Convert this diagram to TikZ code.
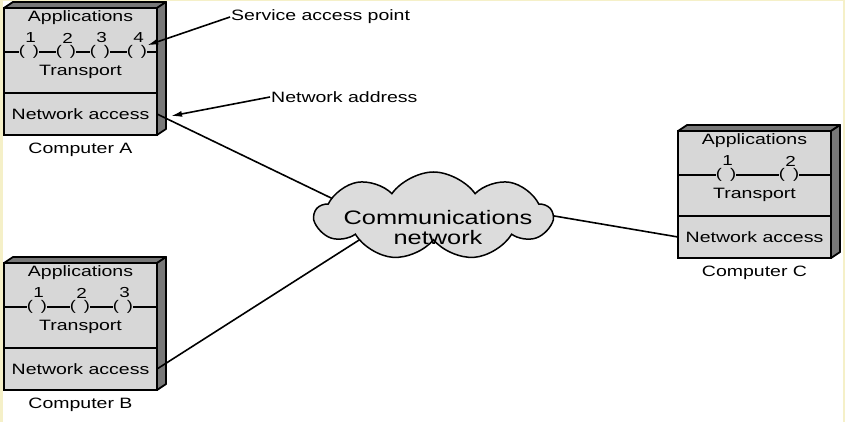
\documentclass[tikz,border=0pt]{standalone}
\usepackage{fontspec}
\setmainfont{Liberation Sans}[FakeStretch=1.3]
\usetikzlibrary{shapes.symbols,arrows.meta}
\definecolor{cream}{RGB}{245,240,200}
\definecolor{faceclr}{RGB}{215,215,215}
\definecolor{sideclr}{RGB}{120,120,120}
\definecolor{cloudclr}{RGB}{220,220,220}
\pgfdeclarelayer{linklayer}
\pgfdeclarelayer{cloudlayer}
\pgfsetlayers{main,linklayer,cloudlayer}
\tikzset{
 boxtxt/.style={font=\fontsize{15}{17}\selectfont, inner sep=1pt},
 numtxt/.style={font=\fontsize{14.5}{16}\selectfont, inner sep=0pt},
 layerbox/.style={draw, fill=faceclr, line width=1.8pt, minimum width=153pt, inner sep=0pt, outer sep=0pt, anchor=north west, font=\fontsize{15}{17}\selectfont},
 darkface/.style={draw, fill=sideclr, line width=1.8pt, line join=round},
 parenbox/.style={inner sep=0pt, font=\fontsize{14}{16}\selectfont},
 sapline/.style={line width=1.6pt},
 link/.style={line width=1.6pt, shorten >=-10pt},
 callout/.style={line width=1.6pt, -{Latex[length=11pt,width=6pt]}},
}
\newcommand\computer[4]{%
  \path[darkface] (#2,#3) -- ++(9,-6) -- ++(153,0) -- ++(-9,6) -- cycle;
  \path[darkface] (#2+153,#3) -- ++(9,-6) -- ++(0,127) -- ++(-9,6) -- cycle;
  \node[layerbox, minimum height=85pt] (#1-up) at (#2,#3) {};
  \node[layerbox, minimum height=42pt] (#1-net) at (#1-up.south west) {Network access};
  \node[boxtxt] (#1-app) at ([yshift=-10pt]#1-up.north) {Applications};
  \node[boxtxt] (#1-tr) at ([yshift=-64pt]#1-up.north) {Transport};
  \node[boxtxt] (#1-lab) at ([yshift=-15pt]#1-net.south) {#4};
}
\newcommand\saps[3]{%
  \foreach \o [count=\i] in {#3}{
    \node[parenbox] (#1-p\i) at ([xshift=\o pt, yshift=-44pt]#1-up.north west) {(\hspace{8pt})};
    \node[numtxt] (#1-n\i) at ([xshift=\o pt + 1.5pt, yshift=-30pt]#1-up.north west) {\i};
  }
  \draw[sapline] (#1-up.west |- #1-p1) -- (#1-p1.west);
  \foreach \i [remember=\i as \j (initially 1)] in {2,...,#2}{
    \draw[sapline] (#1-p\j.east) -- (#1-p\i.west);
  }
  \draw[sapline] (#1-p#2.east) -- (#1-up.east |- #1-p#2);
}
\begin{document}
\begin{tikzpicture}[x=1pt,y=-1pt]
\useasboundingbox (0,0) rectangle (845,422);
\fill[cream] (0,0) rectangle (845,422);
\fill[white] (3,1.5) rectangle (843,422);
\computer{A}{4}{8}{Computer A}
\saps{A}{4}{25,62,96,133}
\computer{B}{4}{263}{Computer B}
\saps{B}{3}{33,76,119}
\computer{C}{678}{131}{Computer C}
\saps{C}{2}{48,111}
\begin{pgfonlayer}{cloudlayer}
\node[cloud, cloud puffs=9, cloud puff arc=110, cloud ignores aspect, minimum width=237pt, minimum height=88pt, draw, fill=cloudclr, line width=1.5pt, inner sep=0pt] (net) at (433.5,216) {};
\node[align=center, font=\fontsize{19.5}{20}\selectfont, inner sep=0pt] (nettxt) at (438,228) {Communications\\network};
\end{pgfonlayer}
\begin{pgfonlayer}{linklayer}
\draw[link] (A-net.east) -- (net.170);
\draw[link] (B-net.east) -- (net.198);
\draw[link] (C-net.west) -- (net.east);
\end{pgfonlayer}
\node[boxtxt, anchor=west] (sap) at (230,17) {Service access point};
\node[boxtxt, anchor=west] (naddr) at (270,97) {Network address};
\draw[callout] (sap.west) -- (A-p4.north east);
\draw[callout] (naddr.west) -- ([xshift=14pt,yshift=-2pt]A-net.east);
\end{tikzpicture}
\end{document}
